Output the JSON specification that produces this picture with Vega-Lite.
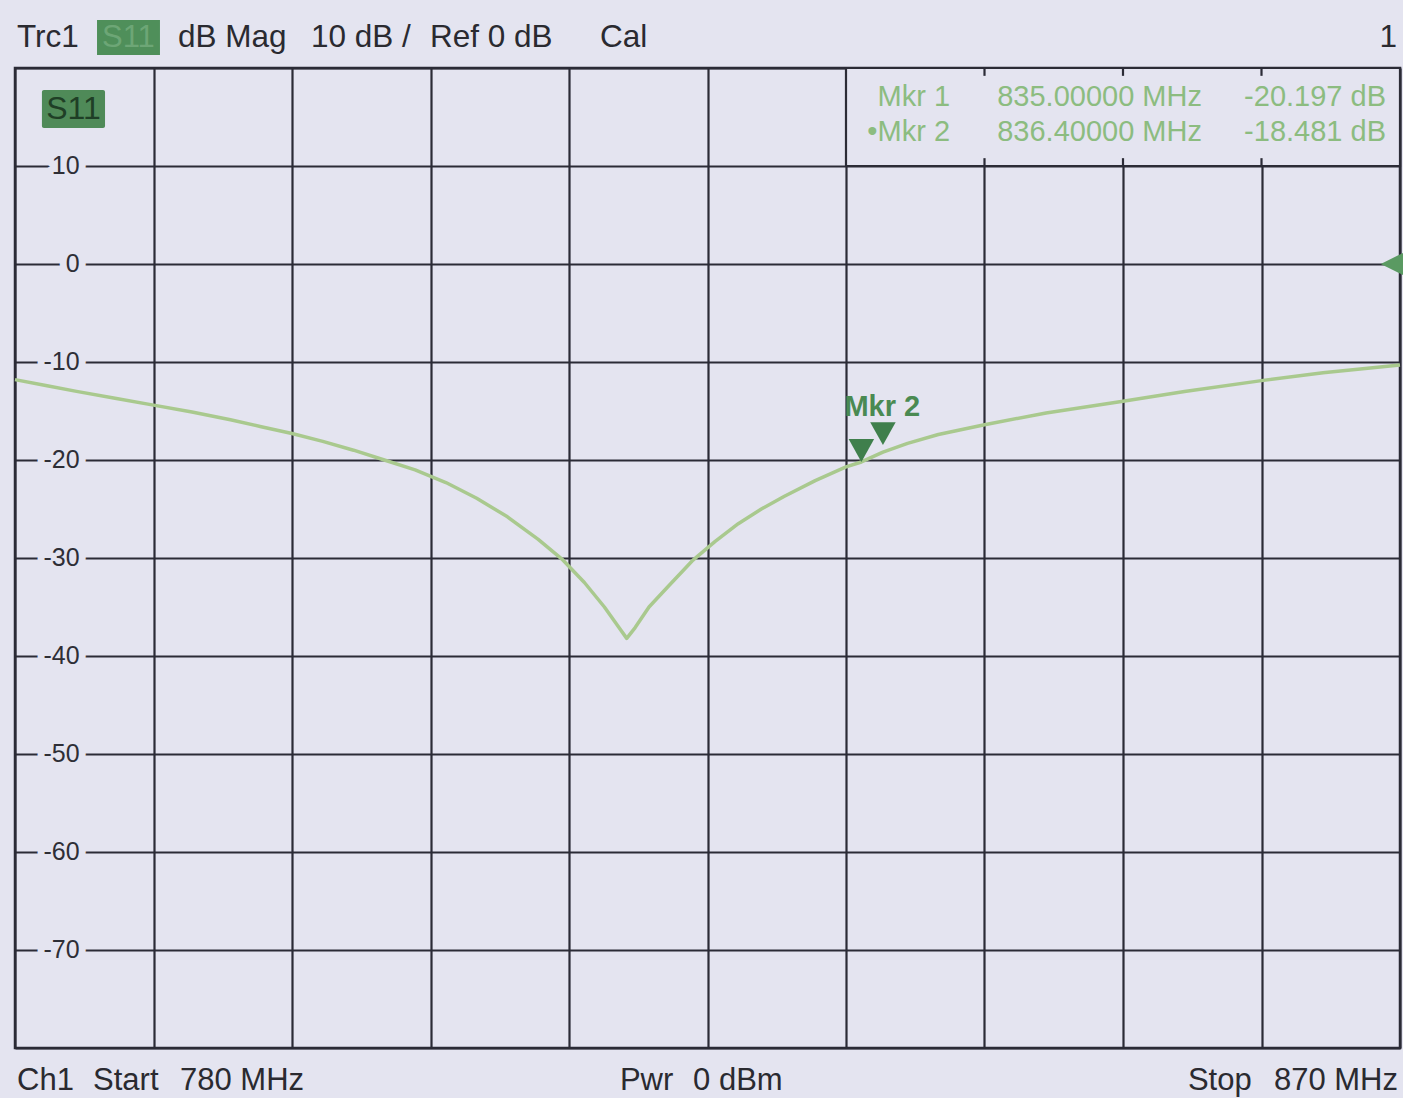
{
  "$schema": "https://vega.github.io/schema/vega-lite/v6.json",
  "width": 1385,
  "height": 980,
  "autosize": {"type": "none"},
  "padding": {"left": 15, "top": 68, "right": 3, "bottom": 50},
  "background": "#e4e4f0",
  "config": {
    "view": {"stroke": "#2b2b36", "strokeWidth": 2.5},
    "text": {"font": "Liberation Sans"}
  },
  "datasets": {
    "trace": [
      {"f": 780.0, "db": -11.8},
      {"f": 782.0, "db": -12.4},
      {"f": 784.0, "db": -13.0},
      {"f": 786.5, "db": -13.7},
      {"f": 789.0, "db": -14.4},
      {"f": 791.5, "db": -15.1},
      {"f": 794.0, "db": -15.9},
      {"f": 796.0, "db": -16.6},
      {"f": 798.0, "db": -17.3},
      {"f": 800.0, "db": -18.1},
      {"f": 802.0, "db": -19.0},
      {"f": 804.0, "db": -20.0},
      {"f": 806.0, "db": -21.0},
      {"f": 808.0, "db": -22.3},
      {"f": 810.0, "db": -23.9},
      {"f": 812.0, "db": -25.8},
      {"f": 814.0, "db": -28.1},
      {"f": 815.6, "db": -30.2},
      {"f": 817.0, "db": -32.5},
      {"f": 818.3, "db": -35.0},
      {"f": 819.2, "db": -37.0},
      {"f": 819.75, "db": -38.2},
      {"f": 820.3, "db": -37.1},
      {"f": 821.2, "db": -35.0},
      {"f": 822.5, "db": -32.8},
      {"f": 824.0, "db": -30.3},
      {"f": 825.5, "db": -28.3},
      {"f": 827.0, "db": -26.5},
      {"f": 828.5, "db": -25.0},
      {"f": 830.0, "db": -23.7},
      {"f": 832.0, "db": -22.1},
      {"f": 834.0, "db": -20.7},
      {"f": 835.0, "db": -20.2},
      {"f": 836.4, "db": -19.2},
      {"f": 838.0, "db": -18.3},
      {"f": 840.0, "db": -17.4},
      {"f": 843.0, "db": -16.4},
      {"f": 847.0, "db": -15.2},
      {"f": 852.0, "db": -14.0},
      {"f": 856.0, "db": -13.0},
      {"f": 861.0, "db": -11.9},
      {"f": 865.0, "db": -11.1},
      {"f": 870.0, "db": -10.3}
    ],
    "ylabels": [
      {"db": 10, "lab": "10"},
      {"db": 0, "lab": "0"},
      {"db": -10, "lab": "-10"},
      {"db": -20, "lab": "-20"},
      {"db": -30, "lab": "-30"},
      {"db": -40, "lab": "-40"},
      {"db": -50, "lab": "-50"},
      {"db": -60, "lab": "-60"},
      {"db": -70, "lab": "-70"}
    ],
    "markers": [
      {"name": "Mkr 1", "f": 835.0, "v": -20.197},
      {"name": "Mkr 2", "f": 836.4, "v": -18.481}
    ],
    "stubs": [{"f": 843}, {"f": 852}, {"f": 861}],
    "one": [{"k": 1}]
  },
  "encoding": {
    "x": {
      "type": "quantitative",
      "scale": {"domain": [780, 870], "nice": false, "zero": false},
      "axis": {
        "values": [780, 789, 798, 807, 816, 825, 834, 843, 852, 861, 870],
        "grid": true, "gridColor": "#2b2b36", "gridWidth": 2.2, "gridOpacity": 1,
        "labels": false, "ticks": false, "domain": false, "title": null
      }
    },
    "y": {
      "type": "quantitative",
      "scale": {"domain": [-80, 20], "nice": false, "zero": false},
      "axis": {
        "values": [-80, -70, -60, -50, -40, -30, -20, -10, 0, 10, 20],
        "grid": true, "gridColor": "#2b2b36", "gridWidth": 2.2, "gridOpacity": 1,
        "labels": false, "ticks": false, "domain": false, "title": null
      }
    }
  },
  "layer": [
    {
      "data": {"name": "one"},
      "mark": {"type": "rect", "fill": "#e4e4f0", "stroke": "#2b2b36", "strokeWidth": 2.2},
      "encoding": {"x": {"datum": 834}, "x2": {"datum": 870}, "y": {"datum": 20}, "y2": {"datum": 10}}
    },
    {
      "data": {"name": "stubs"},
      "mark": {"type": "rule", "color": "#2b2b36", "strokeWidth": 2.2},
      "encoding": {"x": {"field": "f"}, "y": {"datum": 20}, "y2": {"datum": 19.2}}
    },
    {
      "data": {"name": "stubs"},
      "mark": {"type": "rule", "color": "#2b2b36", "strokeWidth": 2.2},
      "encoding": {"x": {"field": "f"}, "y": {"datum": 10}, "y2": {"datum": 10.8}}
    },
    {
      "data": {"name": "ylabels"},
      "mark": {"type": "text", "align": "right", "baseline": "middle", "fontSize": 25, "fill": "#e4e4f0", "stroke": "#e4e4f0", "strokeWidth": 14, "strokeJoin": "round"},
      "encoding": {"x": {"datum": 784.2}, "y": {"field": "db"}, "text": {"field": "lab"}}
    },
    {
      "data": {"name": "ylabels"},
      "mark": {"type": "text", "align": "right", "baseline": "middle", "fontSize": 25, "color": "#2e2e36"},
      "encoding": {"x": {"datum": 784.2}, "y": {"field": "db"}, "text": {"field": "lab"}}
    },
    {
      "data": {"name": "trace"},
      "mark": {"type": "line", "color": "#a9c98e", "strokeWidth": 3.5, "strokeJoin": "round"},
      "encoding": {"x": {"field": "f"}, "y": {"field": "db"}}
    },
    {
      "data": {"name": "markers"},
      "mark": {"type": "point", "filled": true, "shape": "M-1,-1.8L1,-1.8L0,0Z", "size": 650, "color": "#3f7f4c", "opacity": 1},
      "encoding": {"x": {"field": "f"}, "y": {"field": "v"}}
    },
    {
      "data": {"name": "one"},
      "mark": {"type": "text", "text": "Mkr 2", "align": "left", "baseline": "middle", "fontSize": 29, "fontWeight": "bold", "color": "#4a8a52"},
      "encoding": {"x": {"datum": 833.9}, "y": {"datum": -14.6}}
    },
    {
      "data": {"name": "one"},
      "mark": {"type": "point", "filled": true, "shape": "M0,0L2,-1L2,1Z", "size": 700, "color": "#5a9a62", "opacity": 1},
      "encoding": {"x": {"datum": 868.75}, "y": {"datum": 0}}
    },
    {
      "data": {"name": "one"},
      "mark": {"type": "rect", "color": "#4f8a58", "cornerRadius": 2},
      "encoding": {"x": {"datum": 781.75}, "x2": {"datum": 785.85}, "y": {"datum": 17.76}, "y2": {"datum": 13.88}}
    },
    {
      "data": {"name": "one"},
      "mark": {"type": "text", "text": "S11", "align": "center", "baseline": "middle", "fontSize": 32, "color": "#1f3f26"},
      "encoding": {"x": {"datum": 783.8}, "y": {"datum": 15.8}}
    },
    {
      "data": {"name": "one"},
      "mark": {"type": "rect", "color": "#4f8f5a"},
      "encoding": {"x": {"datum": 785.33}, "x2": {"datum": 789.42}, "y": {"datum": 24.9}, "y2": {"datum": 21.33}}
    },
    {
      "data": {"name": "one"},
      "mark": {"type": "text", "text": "S11", "align": "center", "baseline": "middle", "fontSize": 31, "color": "#6da676"},
      "encoding": {"x": {"datum": 787.37}, "y": {"datum": 23.1}}
    },
    {
      "data": {"name": "one"},
      "mark": {"type": "text", "text": "Trc1", "align": "left", "baseline": "middle", "fontSize": 31.5, "color": "#2a2a30"},
      "encoding": {"x": {"datum": 780.13}, "y": {"datum": 23.1}}
    },
    {
      "data": {"name": "one"},
      "mark": {"type": "text", "text": "dB Mag", "align": "left", "baseline": "middle", "fontSize": 31.5, "color": "#2a2a30"},
      "encoding": {"x": {"datum": 790.59}, "y": {"datum": 23.1}}
    },
    {
      "data": {"name": "one"},
      "mark": {"type": "text", "text": "10 dB /", "align": "left", "baseline": "middle", "fontSize": 31.5, "color": "#2a2a30"},
      "encoding": {"x": {"datum": 799.23}, "y": {"datum": 23.1}}
    },
    {
      "data": {"name": "one"},
      "mark": {"type": "text", "text": "Ref 0 dB", "align": "left", "baseline": "middle", "fontSize": 31.5, "color": "#2a2a30"},
      "encoding": {"x": {"datum": 806.97}, "y": {"datum": 23.1}}
    },
    {
      "data": {"name": "one"},
      "mark": {"type": "text", "text": "Cal", "align": "left", "baseline": "middle", "fontSize": 31.5, "color": "#2a2a30"},
      "encoding": {"x": {"datum": 818.01}, "y": {"datum": 23.1}}
    },
    {
      "data": {"name": "one"},
      "mark": {"type": "text", "text": "1", "align": "right", "baseline": "middle", "fontSize": 31.5, "color": "#2a2a30"},
      "encoding": {"x": {"datum": 869.81}, "y": {"datum": 23.1}}
    },
    {
      "data": {"name": "one"},
      "mark": {"type": "text", "text": "Mkr 1", "align": "right", "baseline": "middle", "fontSize": 29, "color": "#8cbc80"},
      "encoding": {"x": {"datum": 840.76}, "y": {"datum": 17.04}}
    },
    {
      "data": {"name": "one"},
      "mark": {"type": "text", "text": "835.00000 MHz", "align": "right", "baseline": "middle", "fontSize": 29, "color": "#8cbc80"},
      "encoding": {"x": {"datum": 857.13}, "y": {"datum": 17.04}}
    },
    {
      "data": {"name": "one"},
      "mark": {"type": "text", "text": "-20.197 dB", "align": "right", "baseline": "middle", "fontSize": 29, "color": "#8cbc80"},
      "encoding": {"x": {"datum": 869.09}, "y": {"datum": 17.04}}
    },
    {
      "data": {"name": "one"},
      "mark": {"type": "text", "text": "•Mkr 2", "align": "right", "baseline": "middle", "fontSize": 29, "color": "#8cbc80"},
      "encoding": {"x": {"datum": 840.76}, "y": {"datum": 13.47}}
    },
    {
      "data": {"name": "one"},
      "mark": {"type": "text", "text": "836.40000 MHz", "align": "right", "baseline": "middle", "fontSize": 29, "color": "#8cbc80"},
      "encoding": {"x": {"datum": 857.13}, "y": {"datum": 13.47}}
    },
    {
      "data": {"name": "one"},
      "mark": {"type": "text", "text": "-18.481 dB", "align": "right", "baseline": "middle", "fontSize": 29, "color": "#8cbc80"},
      "encoding": {"x": {"datum": 869.09}, "y": {"datum": 13.47}}
    },
    {
      "data": {"name": "one"},
      "mark": {"type": "text", "text": "Ch1", "align": "left", "baseline": "middle", "fontSize": 31, "color": "#2a2a30"},
      "encoding": {"x": {"datum": 780.13}, "y": {"datum": -83.4}}
    },
    {
      "data": {"name": "one"},
      "mark": {"type": "text", "text": "Start", "align": "left", "baseline": "middle", "fontSize": 31, "color": "#2a2a30"},
      "encoding": {"x": {"datum": 785.07}, "y": {"datum": -83.4}}
    },
    {
      "data": {"name": "one"},
      "mark": {"type": "text", "text": "780 MHz", "align": "left", "baseline": "middle", "fontSize": 31, "color": "#2a2a30"},
      "encoding": {"x": {"datum": 790.72}, "y": {"datum": -83.4}}
    },
    {
      "data": {"name": "one"},
      "mark": {"type": "text", "text": "Pwr", "align": "left", "baseline": "middle", "fontSize": 31, "color": "#2a2a30"},
      "encoding": {"x": {"datum": 819.31}, "y": {"datum": -83.4}}
    },
    {
      "data": {"name": "one"},
      "mark": {"type": "text", "text": "0 dBm", "align": "left", "baseline": "middle", "fontSize": 31, "color": "#2a2a30"},
      "encoding": {"x": {"datum": 824.06}, "y": {"datum": -83.4}}
    },
    {
      "data": {"name": "one"},
      "mark": {"type": "text", "text": "Stop", "align": "left", "baseline": "middle", "fontSize": 31, "color": "#2a2a30"},
      "encoding": {"x": {"datum": 856.22}, "y": {"datum": -83.4}}
    },
    {
      "data": {"name": "one"},
      "mark": {"type": "text", "text": "870 MHz", "align": "right", "baseline": "middle", "fontSize": 31, "color": "#2a2a30"},
      "encoding": {"x": {"datum": 869.87}, "y": {"datum": -83.4}}
    }
  ]
}
